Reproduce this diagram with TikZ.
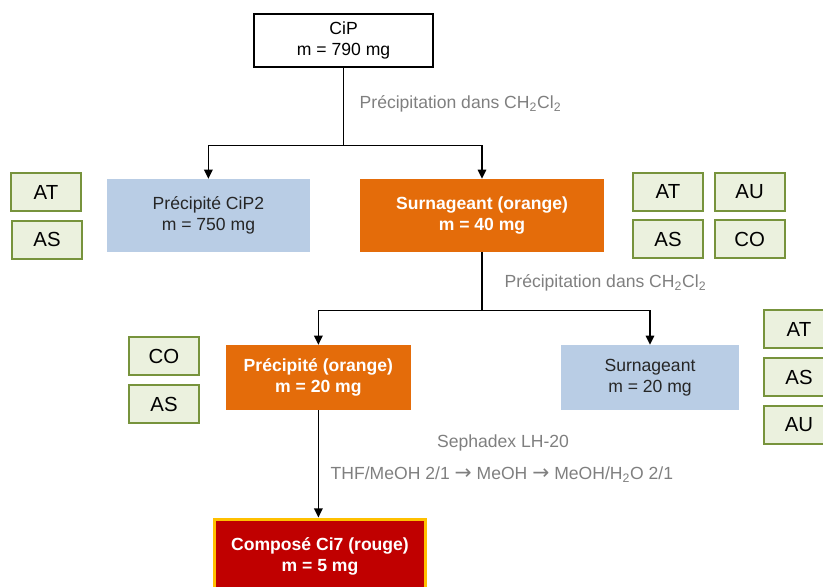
\documentclass[tikz,border=0pt]{standalone}
\usepackage{fontspec}
\setmainfont{Liberation Sans}
\newfontfamily\arrowfont{DejaVu Sans}
\usetikzlibrary{arrows.meta}

\definecolor{boxblue}{HTML}{B9CDE5}
\definecolor{boxorange}{HTML}{E46C0A}
\definecolor{boxred}{HTML}{C00000}
\definecolor{boxgold}{HTML}{FFC000}
\definecolor{testfill}{HTML}{EBF1DE}
\definecolor{testline}{HTML}{77933C}
\definecolor{lblgray}{HTML}{7F7F7F}

\newcommand{\tto}{{\arrowfont\fontsize{14.5}{15}\selectfont →}}

\begin{document}
\begin{tikzpicture}[
    block/.style={
        rectangle, align=center, inner sep=2pt,
        font=\fontsize{12.5}{15}\selectfont
    },
    startbox/.style={block, draw=black, line width=1.1pt, fill=white,
        minimum width=4.475cm, minimum height=1.325cm},
    bluebox/.style={block, fill=boxblue, text=black!85},
    orangebox/.style={block, fill=boxorange, text=white,
        font=\fontsize{12.5}{15}\selectfont\bfseries},
    redbox/.style={block, fill=boxred, draw=boxgold, line width=2.6pt, text=white,
        font=\fontsize{12.5}{15}\selectfont\bfseries},
    testbox/.style={
        rectangle, draw=testline, fill=testfill, line width=1.4pt,
        minimum width=1.75cm, minimum height=0.95cm, inner sep=1pt,
        font=\fontsize{14.5}{16}\selectfont
    },
    arrow/.style={-{Triangle[length=6.5pt,width=6pt]}, line width=1.1pt},
    lbl/.style={font=\fontsize{12.5}{15}\selectfont, text=lblgray, inner sep=1pt}
]
\useasboundingbox (0,0) rectangle (20.575,-14.675);
\clip (0,0) rectangle (20.575,-14.675);

% Blocks
\node[startbox] (cip) at (8.59,-1.01) {CiP\\m = 790 mg};
\node[bluebox, minimum width=5.075cm, minimum height=1.825cm] (cip2) at (5.21,-5.39)
    {Précipité CiP2\\m = 750 mg};
\node[orangebox, minimum width=6.1cm, minimum height=1.825cm] (surn) at (12.05,-5.39)
    {Surnageant (orange)\\m = 40 mg};
\node[orangebox, minimum width=4.625cm, minimum height=1.625cm] (prec) at (7.96,-9.44)
    {Précipité (orange)\\m = 20 mg};
\node[bluebox, minimum width=4.45cm, minimum height=1.625cm] (surn2) at (16.25,-9.44)
    {Surnageant\\m = 20 mg};
\node[redbox, minimum width=5.28cm, minimum height=1.85cm] (ci7) at (8.0,-13.91)
    {Composé Ci7 (rouge)\\m = 5 mg};

% Tests
\node[testbox] (t1at) at (1.15,-4.8)   {AT};
\node[testbox] (t1as) at (1.175,-5.99) {AS};
\node[testbox] (t2at) at (16.7,-4.79)  {AT};
\node[testbox] (t2au) at (18.74,-4.79) {AU};
\node[testbox] (t2as) at (16.7,-5.975) {AS};
\node[testbox] (t2co) at (18.74,-5.975) {CO};
\node[testbox] (t3co) at (4.1,-8.9)    {CO};
\node[testbox] (t3as) at (4.1,-10.1)   {AS};
\node[testbox] (t4at) at (19.975,-8.225)  {AT};
\node[testbox] (t4as) at (19.975,-9.425)  {AS};
\node[testbox] (t4au) at (19.975,-10.625) {AU};

% Edges
\draw[line width=1.1pt] (cip.south) -- ++(0,-1.95) coordinate (s1);
\draw[arrow] (s1) -| (cip2.north);
\draw[arrow] (s1) -| (surn.north);
\draw[line width=1.1pt] (surn.south) -- ++(0,-1.45) coordinate (s2);
\draw[arrow] (s2) -| (prec.north);
\draw[arrow] (s2) -| (surn2.north);
\draw[arrow] (prec.south) -- (prec.south |- ci7.north);

% Labels
\node[lbl, anchor=west] (p1) at (8.95,-2.6) {Précipitation dans CH\textsubscript{2}Cl\textsubscript{2}};
\node[lbl, anchor=west] (p2) at (12.575,-7.075) {Précipitation dans CH\textsubscript{2}Cl\textsubscript{2}};
\node[lbl] (sep) at (12.575,-11.075) {Sephadex LH-20};
\node[lbl, anchor=west] (elu) at (8.225,-11.875)
    {THF/MeOH 2/1 \tto{} MeOH \tto{} MeOH/H\textsubscript{2}O 2/1};

\end{tikzpicture}
\end{document}
